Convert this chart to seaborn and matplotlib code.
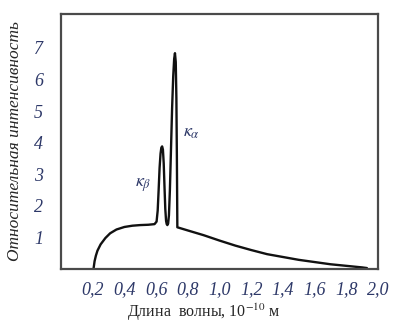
import matplotlib
matplotlib.use("Agg")
import matplotlib.pyplot as plt
import seaborn as sns
import pandas as pd

# spectrum (wavelength in 1e-10 m, relative intensity)
wavelength = [0.205, 0.212, 0.22, 0.23, 0.25, 0.28, 0.31, 0.35, 0.40, 0.45, 0.50, 0.55, 0.59,
              0.603, 0.610, 0.616, 0.622, 0.628, 0.633, 0.638, 0.643, 0.648, 0.653, 0.658, 0.663,
              0.667, 0.671, 0.676, 0.681, 0.687, 0.694, 0.701, 0.708, 0.714, 0.719, 0.724, 0.728,
              0.731, 0.733, 0.734, 0.80, 0.90, 1.00, 1.10, 1.20, 1.30, 1.40, 1.50, 1.60, 1.70,
              1.80, 1.90, 1.93]
intensity = [0.0, 0.25, 0.42, 0.58, 0.78, 0.98, 1.13, 1.25, 1.33, 1.37, 1.39, 1.40, 1.42,
             1.50, 1.85, 2.50, 3.20, 3.65, 3.84, 3.88, 3.78, 3.35, 2.60, 1.90, 1.52,
             1.42, 1.39, 1.44, 1.70, 2.50, 3.80, 5.10, 6.10, 6.65, 6.83, 6.55, 5.40,
             3.60, 2.10, 1.32, 1.22, 1.07, 0.90, 0.74, 0.60, 0.47, 0.38, 0.29, 0.22, 0.15,
             0.10, 0.05, 0.03]

xticks = [0.2, 0.4, 0.6, 0.8, 1.0, 1.2, 1.4, 1.6, 1.8, 2.0]
yticks = [1, 2, 3, 4, 5, 6, 7]

df = pd.DataFrame({"wl": wavelength, "I": intensity})

sns.set_style("white")
plt.rcParams["font.family"] = ["Liberation Serif", "DejaVu Serif"]
plt.rcParams["mathtext.fontset"] = "stix"

fig = plt.figure(figsize=(3.97, 3.27), dpi=100)
ax = fig.add_axes([61 / 397, 1 - 269 / 327, 317 / 397, 255 / 327])

sns.lineplot(data=df, x="wl", y="I", ax=ax, color="#111111", linewidth=1.7, sort=False)

ax.set_xlim(0, 2.0)
ax.set_ylim(0, 8.07)
ax.set_xticks(xticks)
ax.set_xticklabels([f"{v:.1f}".replace(".", ",") for v in xticks])
ax.set_yticks(yticks)
ax.set_yticklabels([str(v) for v in yticks])

tick_color = "#2d3868"
ax.tick_params(axis="both", direction="in", length=8, width=1.3, color="#444444",
               labelcolor=tick_color, labelsize=13)
ax.tick_params(axis="x", pad=9)
ax.tick_params(axis="y", pad=13)
for lab in ax.get_xticklabels() + ax.get_yticklabels():
    lab.set_style("italic")

for s in ax.spines.values():
    s.set_color("#4a4a4a")
    s.set_linewidth(1.6)

ax.set_xlabel("Длина  волны, 10$^{-10}$ м", fontsize=11.5, labelpad=0)
ax.xaxis.set_label_coords(0.45, -0.13)
ax.set_ylabel("Относительная интенсивность", fontsize=12.5, style="italic", labelpad=8)

ax.text(0.77, 4.33, r"$\kappa_{\alpha}$", fontsize=13, color=tick_color, va="center")
ax.text(0.47, 2.66, r"$\kappa_{\beta}$", fontsize=13, color=tick_color, va="center")

fig.savefig("out.png", dpi=100)
